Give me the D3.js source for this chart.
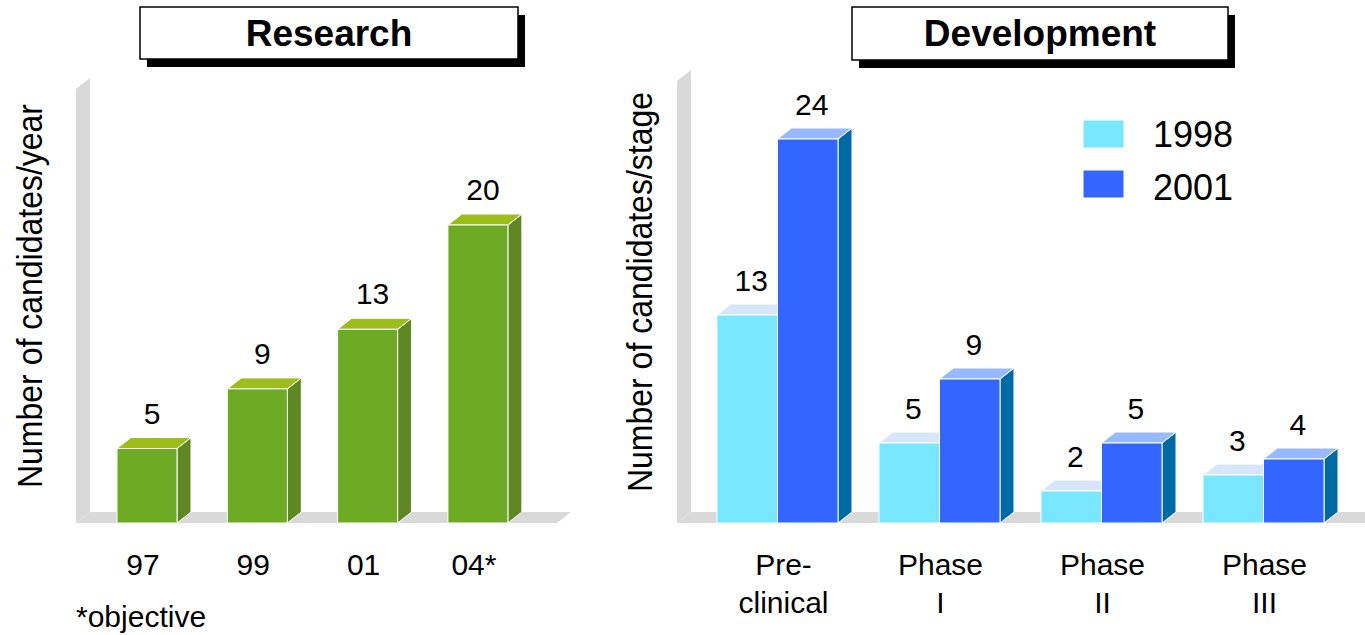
<!DOCTYPE html>
<html>
<head>
<meta charset="utf-8">
<script src="https://cdn.jsdelivr.net/npm/d3@7"></script>
<style>
  html, body { margin: 0; padding: 0; background: #fff; }
  svg { display: block; font-family: "Liberation Sans", Arial, sans-serif; }
</style>
</head>
<body>
<svg id="chart" width="1365" height="635"></svg>
<script>
// ---- data ----
const researchYears = ["97", "99", "01", "04*"];
const researchValues = [5, 9, 13, 20];

const devStages = ["Pre-clinical", "Phase I", "Phase II", "Phase III"];
const devStageLines = [["Pre-", "clinical"], ["Phase", "I"], ["Phase", "II"], ["Phase", "III"]];
const devSeries = ["1998", "2001"];
const dev1998 = [13, 5, 2, 3];
const dev2001 = [24, 9, 5, 4];

// ---- styling ----
const DX = 14, DY = -11;          // depth offset of the 3D extrusion
const FLOOR_Y = 523;
const greyWall = "#d9d9d9";
const green = { front: "#6dab25", top: "#9dbd1a", side: "#5f8825" };
const seriesColors = {
  "1998": { front: "#77e6fe", top: "#d8e5fc", side: "#5cc4dc" },
  "2001": { front: "#3366ff", top: "#99b9ff", side: "#006aa5" }
};

const svg = d3.select("#chart");

// Draws one extruded bar: front face, top face, right side face
function bar3d(g, x, w, yTop, yBase, c) {
  g.append("polygon")
    .attr("points", [[x + w, yTop], [x + w + DX, yTop + DY], [x + w + DX, yBase + DY], [x + w, yBase]].join(" "))
    .attr("fill", c.side).attr("stroke", "#fff").attr("stroke-width", 1);
  g.append("polygon")
    .attr("points", [[x, yTop], [x + DX, yTop + DY], [x + w + DX, yTop + DY], [x + w, yTop]].join(" "))
    .attr("fill", c.top).attr("stroke", "#fff").attr("stroke-width", 1);
  g.append("rect")
    .attr("x", x).attr("y", yTop).attr("width", w).attr("height", yBase - yTop)
    .attr("fill", c.front).attr("stroke", "#fff").attr("stroke-width", 1);
}

// Grey back wall + floor of a 3D plot area
function frame(g, x0, x1, wallTop) {
  g.append("polygon")
    .attr("points", [[x0, wallTop - DY], [x0 + DX, wallTop], [x0 + DX, FLOOR_Y + DY], [x0, FLOOR_Y]].join(" "))
    .attr("fill", greyWall);
  g.append("polygon")
    .attr("points", [[x0, FLOOR_Y], [x0 + DX, FLOOR_Y + DY], [x1 + DX, FLOOR_Y + DY], [x1, FLOOR_Y]].join(" "))
    .attr("fill", greyWall);
}

// Title box with drop shadow
function titleBox(x, y, w, h, label) {
  svg.append("rect").attr("x", x + 7).attr("y", y + 8).attr("width", w).attr("height", h).attr("fill", "#000");
  svg.append("rect").attr("x", x).attr("y", y).attr("width", w).attr("height", h)
    .attr("fill", "#fff").attr("stroke", "#000").attr("stroke-width", 1.5);
  svg.append("text").attr("x", x + w / 2).attr("y", y + 39)
    .attr("text-anchor", "middle").attr("font-size", 37).attr("font-weight", "bold")
    .text(label);
}

// ================= Research panel =================
const xR = d3.scaleBand().domain(researchYears).range([66.7, 558.2]).padding(0.456);
const yR = d3.scaleLinear().domain([0, 20]).range([FLOOR_Y, FLOOR_Y - 20 * 14.9]);

const gR = svg.append("g");
frame(gR, 76, 557, 78);
researchYears.forEach((yr, i) => {
  bar3d(gR, xR(yr), xR.bandwidth(), yR(researchValues[i]), FLOOR_Y, green);
});
gR.selectAll("text.val").data(researchValues).join("text")
  .attr("class", "val")
  .attr("x", (d, i) => xR(researchYears[i]) + xR.bandwidth() / 2 + 5)
  .attr("y", d => yR(d) - 25)
  .attr("text-anchor", "middle").attr("font-size", 30)
  .text(d => d);
gR.selectAll("text.cat").data(researchYears).join("text")
  .attr("class", "cat")
  .attr("x", d => xR(d) + xR.bandwidth() / 2 - 4)
  .attr("y", 575)
  .attr("text-anchor", "middle").attr("font-size", 30)
  .text(d => d);
gR.append("text").attr("x", 76).attr("y", 627).attr("font-size", 30).text("*objective");
gR.append("text").attr("transform", "translate(42,296) rotate(-90) scale(1,1.1)")
  .attr("text-anchor", "middle").attr("font-size", 32)
  .text("Number of candidates/year");

titleBox(140, 7, 378, 52, "Research");

// ================= Development panel =================
const xD = d3.scaleBand().domain(devStages).range([676, 1365]).paddingInner(0.253).paddingOuter(0.253);
const xS = d3.scaleBand().domain(devSeries).range([0, xD.bandwidth()]);
const yD = d3.scaleLinear().domain([0, 24]).range([FLOOR_Y, FLOOR_Y - 24 * 16]);

const gD = svg.append("g");
frame(gD, 677, 1400, 70);
const devData = { "1998": dev1998, "2001": dev2001 };
devStages.forEach((st, i) => {
  devSeries.forEach(s => {
    const v = devData[s][i];
    const x = xD(st) + xS(s);
    bar3d(gD, x, xS.bandwidth(), yD(v), FLOOR_Y, seriesColors[s]);
    gD.append("text")
      .attr("x", x + xS.bandwidth() / 2 + 4)
      .attr("y", yD(v) - 24)
      .attr("text-anchor", "middle").attr("font-size", 30)
      .text(v);
  });
  const lbl = gD.append("text").attr("text-anchor", "middle").attr("font-size", 30);
  devStageLines[i].forEach((line, k) => {
    lbl.append("tspan")
      .attr("x", xD(st) + xD.bandwidth() / 2 + (i === 0 ? 6 : 1))
      .attr("y", 575 + k * 38)
      .text(line);
  });
});
gD.append("text").attr("transform", "translate(652,292) rotate(-90) scale(1,1.1)")
  .attr("text-anchor", "middle").attr("font-size", 32)
  .text("Number of candidates/stage");

// legend
const legend = gD.append("g");
devSeries.forEach((s, k) => {
  legend.append("rect").attr("x", 1083).attr("y", 120 + k * 50).attr("width", 41).attr("height", 28)
    .attr("fill", seriesColors[s].front).attr("stroke", "#fff").attr("stroke-width", 1);
  legend.append("text").attr("x", 1153).attr("y", 147 + k * 53).attr("font-size", 36).text(s);
});

titleBox(852, 7, 376, 53, "Development");
</script>
</body>
</html>
